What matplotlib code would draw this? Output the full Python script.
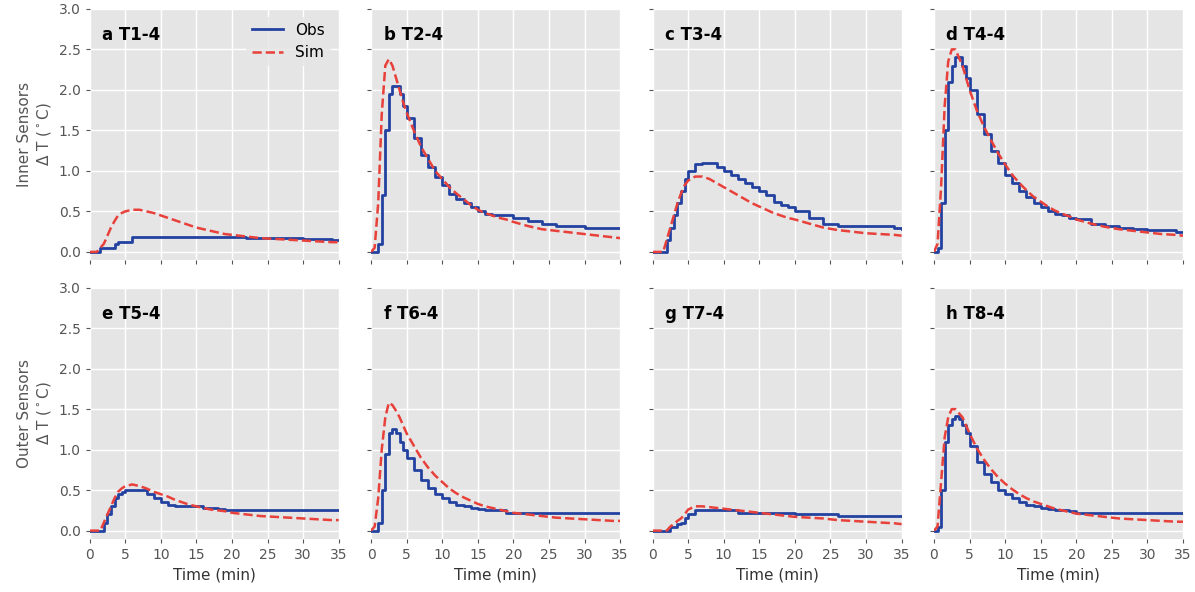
import matplotlib
matplotlib.use("Agg")
import matplotlib.pyplot as plt

t = [0, 0.5, 1, 1.5, 2, 2.5, 3, 3.5, 4, 4.5, 5, 6, 7, 8, 9, 10, 11, 12, 13, 14,
     15, 16, 17, 18, 19, 20, 22, 24, 26, 28, 30, 32, 34, 35]

titles = ["a T1-4", "b T2-4", "c T3-4", "d T4-4", "e T5-4", "f T6-4", "g T7-4", "h T8-4"]

obs = [
    [0, 0, 0, 0.05, 0.05, 0.05, 0.05, 0.1, 0.12, 0.12, 0.12, 0.18, 0.18, 0.18, 0.18, 0.18, 0.18, 0.18, 0.18, 0.18,
     0.18, 0.18, 0.18, 0.18, 0.18, 0.18, 0.17, 0.17, 0.17, 0.17, 0.16, 0.16, 0.15, 0.15],
    [0, 0, 0.1, 0.7, 1.5, 1.95, 2.05, 2.05, 1.95, 1.8, 1.65, 1.4, 1.2, 1.05, 0.92, 0.82, 0.72, 0.65, 0.6, 0.55,
     0.5, 0.47, 0.45, 0.45, 0.45, 0.42, 0.38, 0.35, 0.32, 0.32, 0.3, 0.3, 0.3, 0.3],
    [0, 0, 0, 0, 0.15, 0.3, 0.45, 0.6, 0.75, 0.9, 1.0, 1.08, 1.1, 1.1, 1.05, 1.0, 0.95, 0.9, 0.85, 0.8,
     0.75, 0.7, 0.62, 0.58, 0.55, 0.5, 0.42, 0.35, 0.32, 0.32, 0.32, 0.32, 0.3, 0.28],
    [0, 0.05, 0.6, 1.5, 2.1, 2.3, 2.4, 2.4, 2.3, 2.15, 2.0, 1.7, 1.45, 1.25, 1.1, 0.95, 0.85, 0.75, 0.68, 0.6,
     0.55, 0.5, 0.47, 0.45, 0.42, 0.4, 0.35, 0.32, 0.3, 0.28, 0.27, 0.27, 0.25, 0.25],
    [0, 0, 0, 0, 0.1, 0.2, 0.3, 0.4, 0.45, 0.48, 0.5, 0.5, 0.5, 0.45, 0.4, 0.35, 0.32, 0.3, 0.3, 0.3,
     0.3, 0.28, 0.28, 0.27, 0.26, 0.25, 0.25, 0.25, 0.25, 0.25, 0.25, 0.25, 0.25, 0.25],
    [0, 0, 0.1, 0.5, 0.95, 1.2, 1.25, 1.2, 1.1, 1.0, 0.9, 0.75, 0.62, 0.52, 0.45, 0.4, 0.35, 0.32, 0.3, 0.28,
     0.27, 0.25, 0.25, 0.25, 0.22, 0.22, 0.22, 0.22, 0.22, 0.22, 0.22, 0.22, 0.22, 0.22],
    [0, 0, 0, 0, 0, 0.05, 0.05, 0.08, 0.1, 0.15, 0.2, 0.25, 0.25, 0.25, 0.25, 0.25, 0.25, 0.22, 0.22, 0.22,
     0.22, 0.22, 0.22, 0.22, 0.22, 0.2, 0.2, 0.2, 0.18, 0.18, 0.18, 0.18, 0.18, 0.18],
    [0, 0.05, 0.5, 1.1, 1.3, 1.38, 1.42, 1.38, 1.3, 1.2, 1.05, 0.85, 0.7, 0.6, 0.5, 0.45, 0.4, 0.35, 0.32, 0.3,
     0.28, 0.27, 0.25, 0.25, 0.24, 0.22, 0.22, 0.22, 0.22, 0.22, 0.22, 0.22, 0.22, 0.22],
]

sim = [
    [0, 0, 0, 0.05, 0.1, 0.2, 0.3, 0.38, 0.45, 0.48, 0.5, 0.52, 0.52, 0.5, 0.48, 0.45, 0.42, 0.39, 0.36, 0.33,
     0.3, 0.28, 0.26, 0.24, 0.22, 0.21, 0.19, 0.17, 0.16, 0.15, 0.14, 0.13, 0.12, 0.12],
    [0, 0.05, 0.6, 1.7, 2.3, 2.38, 2.3, 2.15, 2.0, 1.85, 1.72, 1.5, 1.3, 1.15, 1.0, 0.9, 0.8, 0.72, 0.65, 0.58,
     0.52, 0.48, 0.45, 0.42, 0.4, 0.37, 0.32, 0.28, 0.26, 0.24, 0.22, 0.2, 0.18, 0.17],
    [0, 0, 0, 0, 0.15, 0.3, 0.45, 0.6, 0.72, 0.82, 0.88, 0.93, 0.93, 0.9, 0.85, 0.8, 0.75, 0.7, 0.65, 0.6,
     0.56, 0.52, 0.48, 0.45, 0.42, 0.4, 0.35, 0.3, 0.27, 0.25, 0.23, 0.22, 0.21, 0.2],
    [0, 0.1, 0.8, 1.8, 2.35, 2.5, 2.5, 2.4, 2.3, 2.15, 2.0, 1.75, 1.55, 1.38, 1.22, 1.08, 0.95, 0.85, 0.76, 0.68,
     0.62, 0.56, 0.51, 0.47, 0.44, 0.4, 0.35, 0.31, 0.28, 0.26, 0.24, 0.22, 0.21, 0.2],
    [0, 0, 0, 0, 0.1, 0.2, 0.3, 0.4, 0.48, 0.52, 0.55, 0.57, 0.55, 0.52, 0.48, 0.45, 0.42, 0.38, 0.35, 0.32,
     0.3, 0.28, 0.26, 0.25, 0.24, 0.22, 0.2, 0.18, 0.17, 0.16, 0.15, 0.14, 0.13, 0.13],
    [0, 0.05, 0.4, 1.0, 1.4, 1.58, 1.55, 1.48, 1.4, 1.3, 1.2, 1.05, 0.9, 0.78, 0.68, 0.6, 0.52, 0.46, 0.41, 0.37,
     0.33, 0.3, 0.28, 0.26, 0.24, 0.22, 0.2, 0.18, 0.16, 0.15, 0.14, 0.13, 0.12, 0.12],
    [0, 0, 0, 0, 0, 0.05, 0.08, 0.12, 0.15, 0.2, 0.26, 0.3, 0.3, 0.29, 0.28, 0.27, 0.26, 0.25, 0.24, 0.23,
     0.22, 0.21, 0.2, 0.19, 0.18, 0.17, 0.16, 0.15, 0.13, 0.12, 0.11, 0.1, 0.09, 0.08],
    [0, 0.05, 0.6, 1.15, 1.4, 1.5, 1.5, 1.45, 1.4, 1.3, 1.2, 1.02, 0.88, 0.76, 0.66, 0.58, 0.51, 0.45, 0.4, 0.36,
     0.33, 0.3, 0.27, 0.25, 0.23, 0.21, 0.19, 0.17, 0.15, 0.14, 0.13, 0.12, 0.11, 0.11],
]

row_labels = ["Inner Sensors\n$\\Delta$ T ($^\\circ$C)", "Outer Sensors\n$\\Delta$ T ($^\\circ$C)"]

fig, axes = plt.subplots(2, 4, figsize=(11.95, 5.92), dpi=100, sharex=True, sharey=True)
fig.subplots_adjust(left=0.075, right=0.99, top=0.985, bottom=0.09, wspace=0.13, hspace=0.11)

for i, ax in enumerate(axes.flat):
    ax.set_facecolor("#e5e5e5")
    ax.grid(True, color="white", linewidth=1)
    ax.set_axisbelow(True)
    for s in ax.spines.values():
        s.set_visible(False)
    ax.plot(t, obs[i], color="#2342a0", lw=2, drawstyle="steps-post", label="Obs")
    ax.plot(t, sim[i], color="#e8403a", lw=1.8, ls="--", label="Sim")
    ax.text(0.05, 0.93, titles[i], transform=ax.transAxes, fontsize=12, fontweight="bold", va="top")
    ax.set_xlim(0, 35)
    ax.set_ylim(-0.1, 3.0)
    ax.set_xticks(range(0, 36, 5))
    ax.set_yticks([0, 0.5, 1.0, 1.5, 2.0, 2.5, 3.0])
    ax.tick_params(colors="#555555", labelsize=10, length=3)
    if i >= 4:
        ax.set_xlabel("Time (min)", fontsize=11, color="#333333")
    if i % 4 == 0:
        ax.set_ylabel(row_labels[i // 4], fontsize=11, color="#555555")

axes[0, 0].legend(loc="upper right", fontsize=11, frameon=True, facecolor="#e5e5e5", edgecolor="none")
fig.savefig("out.png")
